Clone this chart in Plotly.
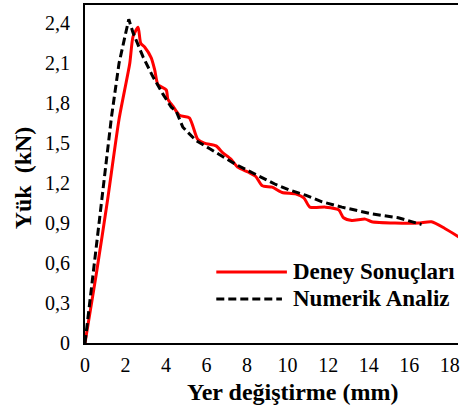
import plotly.graph_objects as go

# Deney Sonuçları (experimental)
deney_x = [0, 0.55, 1.11, 1.68, 2.21, 2.37, 2.62, 2.75, 2.95, 3.27, 3.44, 3.60, 4.01, 4.09,
           4.33, 4.66, 5.15, 5.32, 5.56, 5.89, 6.47, 6.79, 7.20, 7.53, 8.10, 8.43, 8.75,
           9.24, 9.73, 10.39, 10.80, 11.10, 11.87, 12.52, 12.76, 13.17, 13.83, 14.15,
           15.30, 16.45, 17.10, 17.76, 18.41, 18.80]
deney_y = [0, 0.51, 1.07, 1.68, 2.10, 2.30, 2.37, 2.25, 2.22, 2.14, 2.05, 1.94, 1.90, 1.83,
           1.78, 1.71, 1.69, 1.63, 1.53, 1.50, 1.48, 1.43, 1.38, 1.32, 1.28, 1.25, 1.18,
           1.17, 1.13, 1.12, 1.09, 1.02, 1.02, 1.00, 0.94, 0.92, 0.93, 0.91,
           0.90, 0.90, 0.91, 0.86, 0.80, 0.76]

# Numerik Analiz (numerical)
numerik_x = [0, 0.82, 1.31, 1.68, 2.16, 2.37, 2.86, 3.35, 3.84, 4.26, 4.50, 4.83, 5.48,
             6.14, 6.79, 7.45, 8.10, 8.75, 9.41, 10.06, 10.88, 11.70, 12.68, 14.15,
             15.46, 16.61]
numerik_y = [0, 1.07, 1.70, 2.10, 2.43, 2.33, 2.15, 2.00, 1.87, 1.77, 1.74, 1.62, 1.52,
             1.46, 1.40, 1.34, 1.29, 1.24, 1.19, 1.15, 1.11, 1.06, 1.02, 0.97,
             0.94, 0.89]

x_ticks = [0, 2, 4, 6, 8, 10, 12, 14, 16, 18]
y_ticks = [0, 0.3, 0.6, 0.9, 1.2, 1.5, 1.8, 2.1, 2.4]
y_ticktext = ["0", "0,3", "0,6", "0,9", "1,2", "1,5", "1,8", "2,1", "2,4"]

FONT = "'Liberation Serif', 'Times New Roman', Times, 'DejaVu Serif', serif"

fig = go.Figure()
fig.add_trace(go.Scatter(x=deney_x, y=deney_y, mode="lines", name="Deney Sonuçları",
                         line=dict(color="#ff0000", width=3, shape="spline", smoothing=0.6),
                         showlegend=False))
fig.add_trace(go.Scatter(x=numerik_x, y=numerik_y, mode="lines", name="Numerik Analiz",
                         line=dict(color="#000000", width=3, dash="8px,4px"), showlegend=False))

W, H = 460, 410
L, R, T, B = 85, 0, 5, 67
pw, ph = W - L - R, H - T - B

def px_x(p):
    return (p - L) / pw

def px_y(p):
    return (H - B - p) / ph

# manual legend
fig.add_shape(type="line", xref="paper", yref="paper", x0=px_x(217), x1=px_x(288),
              y0=px_y(272), y1=px_y(272), line=dict(color="#ff0000", width=3))
fig.add_shape(type="line", xref="paper", yref="paper", x0=px_x(217), x1=px_x(283),
              y0=px_y(299), y1=px_y(299), line=dict(color="#000000", width=3, dash="8px,4px"))
fig.add_annotation(xref="paper", yref="paper", x=px_x(292), y=px_y(271), xanchor="left",
                   yanchor="middle", showarrow=False, text="<b>Deney Sonuçları</b>",
                   font=dict(family=FONT, size=23, color="black"))
fig.add_annotation(xref="paper", yref="paper", x=px_x(292), y=px_y(298), xanchor="left",
                   yanchor="middle", showarrow=False, text="<b>Numerik Analiz</b>",
                   font=dict(family=FONT, size=23, color="black"))

# axis titles
fig.add_annotation(xref="paper", yref="paper", x=px_x(294), y=px_y(392), xanchor="center",
                   yanchor="middle", showarrow=False, text="<b>Yer değiştirme (mm)</b>",
                   font=dict(family=FONT, size=24, color="black"))
fig.add_annotation(xref="paper", yref="paper", x=px_x(23), y=px_y(178), xanchor="center",
                   yanchor="middle", showarrow=False, text="<b>Yük\u00a0 (kN)</b>", textangle=-90,
                   font=dict(family=FONT, size=24, color="black"))

fig.update_layout(
    width=W, height=H,
    margin=dict(l=L, r=R, t=T, b=B),
    paper_bgcolor="white", plot_bgcolor="white",
    font=dict(family=FONT, size=20, color="black"),
    xaxis=dict(range=[0, pw / 20.37], tickvals=x_ticks, showgrid=False, zeroline=False,
               showline=True, linecolor="black", linewidth=2, mirror=True,
               ticks="outside", ticklen=0, ticklabelstandoff=3, ticklabeloverflow="allow",
               tickfont=dict(family=FONT, size=20, color="black")),
    yaxis=dict(range=[0, ph / 133.2], tickvals=y_ticks, ticktext=y_ticktext, showgrid=False,
               zeroline=False, showline=True, linecolor="black", linewidth=2,
               ticks="outside", ticklen=0, ticklabelstandoff=9,
               tickfont=dict(family=FONT, size=20, color="black")),
)

fig.write_html("out.html")
